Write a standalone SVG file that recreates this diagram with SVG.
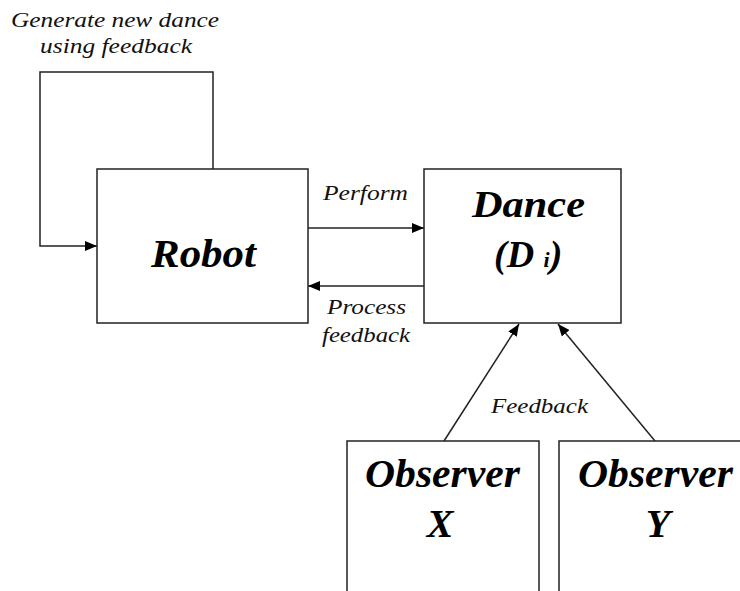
<svg xmlns="http://www.w3.org/2000/svg" width="740" height="591" viewBox="0 0 740 591">
<defs>
<marker id="ah" viewBox="0 0 12 10" refX="12" refY="5" markerWidth="12" markerHeight="10" markerUnits="userSpaceOnUse" orient="auto">
<path d="M0,0 L12,5 L0,10 Z" fill="#000"/>
</marker>
<style>
.box{fill:#fff;stroke:#222;stroke-width:1.5}
.ln{fill:none;stroke:#222;stroke-width:1.5}
text{font-family:'Liberation Serif','DejaVu Serif',serif}
.lbl{font-style:italic;font-size:21px;fill:#111}
.big{font-style:italic;font-weight:bold;fill:#000}
</style>
</defs>
<rect width="740" height="591" fill="#fff"/>
<g id="connectors" font-family="Liberation Serif, DejaVu Serif, serif">
<path class="ln" d="M213,169 V72 H40 V246 H97" marker-end="url(#ah)"/>
<line class="ln" x1="308" y1="228" x2="424" y2="228" marker-end="url(#ah)"/>
<line class="ln" x1="424" y1="286" x2="308" y2="286" marker-end="url(#ah)"/>
<line class="ln" x1="444" y1="441" x2="519" y2="324" marker-end="url(#ah)"/>
<line class="ln" x1="655" y1="441" x2="558" y2="324" marker-end="url(#ah)"/>
<text class="lbl" x="11" y="27" textLength="208" lengthAdjust="spacingAndGlyphs">Generate new dance</text>
<text class="lbl" x="40" y="53" textLength="152" lengthAdjust="spacingAndGlyphs">using feedback</text>
<text class="lbl" x="323" y="200" textLength="85" lengthAdjust="spacingAndGlyphs">Perform</text>
<text class="lbl" x="327" y="314" textLength="79" lengthAdjust="spacingAndGlyphs">Process</text>
<text class="lbl" x="322" y="342" textLength="88" lengthAdjust="spacingAndGlyphs">feedback</text>
<text class="lbl" x="491" y="413" textLength="97" lengthAdjust="spacingAndGlyphs">Feedback</text>
</g>
<g id="robot" font-family="Liberation Serif, DejaVu Serif, serif">
<rect class="box" x="97" y="169" width="211" height="154"/>
<text class="big" x="151" y="267" font-size="41" textLength="105" lengthAdjust="spacingAndGlyphs">Robot</text>
</g>
<g id="dance" font-family="Liberation Serif, DejaVu Serif, serif">
<rect class="box" x="424" y="169" width="197" height="154"/>
<text class="big" x="472" y="217" font-size="38" textLength="113" lengthAdjust="spacingAndGlyphs">Dance</text>
<text class="big" x="494" y="267" font-size="38">(D <tspan font-size="22">i</tspan>)</text>
</g>
<g id="observerX" font-family="Liberation Serif, DejaVu Serif, serif">
<path class="box" d="M347,595 V441 H539 V595"/>
<text class="big" x="365" y="487" font-size="40" textLength="155" lengthAdjust="spacingAndGlyphs">Observer</text>
<text class="big" x="440" y="537" font-size="40" text-anchor="middle">X</text>
</g>
<g id="observerY" font-family="Liberation Serif, DejaVu Serif, serif">
<path class="box" d="M559,595 V441 H745"/>
<text class="big" x="578" y="487" font-size="40" textLength="155" lengthAdjust="spacingAndGlyphs">Observer</text>
<text class="big" x="658" y="537" font-size="40" text-anchor="middle">Y</text>
</g>
</svg>
